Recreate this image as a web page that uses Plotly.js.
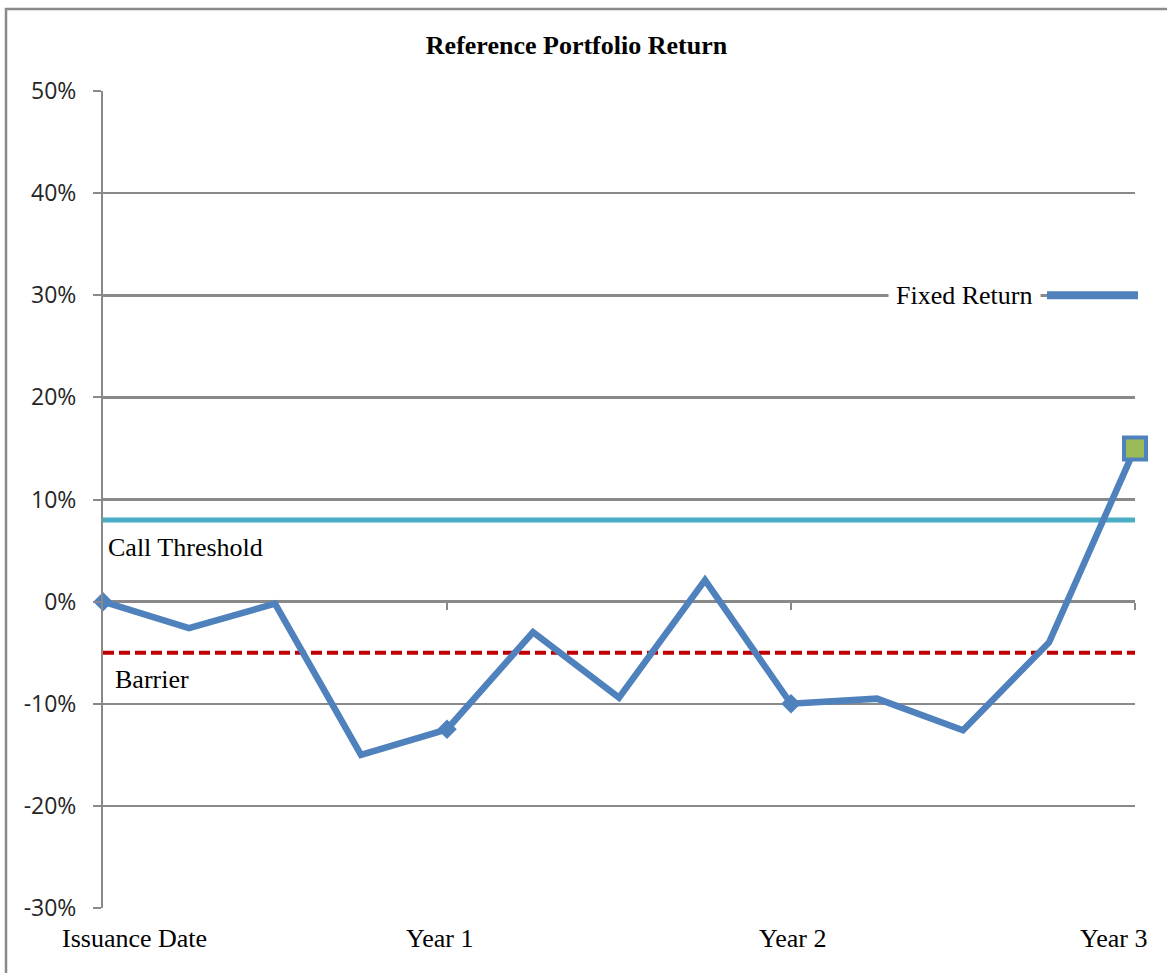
<!DOCTYPE html>
<html>
<head>
<meta charset="utf-8">
<script src="https://cdn.plot.ly/plotly-3.0.1.min.js"></script>
<style>html,body{margin:0;padding:0;background:#fff;}</style>
</head>
<body>
<div id="chart" style="width:1167px;height:973px;"></div>
<script>
// ---- data ----
const periods = [0, 1, 2, 3, 4, 5, 6, 7, 8, 9, 10, 11, 12];
const portfolioReturn = [0, -0.026, -0.002, -0.15, -0.125, -0.03, -0.094, 0.021, -0.10, -0.095, -0.126, -0.04, 0.15];
const diamondIdx = [0, 4, 8];
const finalIdx = [12];
const callThreshold = 0.08;
const barrier = -0.05;
const xTickVals = [0, 4, 8, 12];
const xTickText = ["Issuance Date", "Year 1", "Year 2", "Year 3"];
const yTickVals = [-0.3, -0.2, -0.1, 0, 0.1, 0.2, 0.3, 0.4, 0.5];
const yTickText = ["-30%", "-20%", "-10%", "0%", "10%", "20%", "30%", "40%", "50%"];
const fixedReturnLabel = "Fixed Return";

// ---- styles ----
const BLUE = '#4f81bd';
const GRID = '#898989';
const SERIF = '"Liberation Serif", "Times New Roman", serif';
const SANS = '"Open Sans", "Liberation Sans", sans-serif';
const labelShift = [31, -8, 1, -22];

const xFirst = periods[0], xLast = periods[periods.length - 1];

const traces = [
  { // call threshold
    x: [xFirst, xLast], y: [callThreshold, callThreshold],
    mode: 'lines', line: {color: '#4bacc6', width: 5}, hoverinfo: 'skip', showlegend: false, cliponaxis: false
  },
  { // barrier
    x: [xFirst, xLast], y: [barrier, barrier],
    mode: 'lines', line: {color: '#c00000', width: 4, dash: '11px,5px'}, hoverinfo: 'skip', showlegend: false, cliponaxis: false
  },
  { // portfolio line
    x: periods, y: portfolioReturn,
    mode: 'lines', line: {color: BLUE, width: 6.5}, hoverinfo: 'skip', showlegend: false, cliponaxis: false
  },
  { // diamond markers
    x: diamondIdx.map(i => periods[i]), y: diamondIdx.map(i => portfolioReturn[i]),
    mode: 'markers', marker: {symbol: 'diamond', size: 15, color: BLUE}, hoverinfo: 'skip', showlegend: false, cliponaxis: false
  },
  { // final square
    x: finalIdx.map(i => periods[i]), y: finalIdx.map(i => portfolioReturn[i]),
    mode: 'markers', marker: {symbol: 'square', size: 22, color: '#9bbb59', line: {color: BLUE, width: 4}}, hoverinfo: 'skip', showlegend: false, cliponaxis: false
  },
  { // helper for zero-line tick axis
    x: xTickVals, y: xTickVals.map(() => null), xaxis: 'x2', yaxis: 'y',
    mode: 'markers', hoverinfo: 'skip', showlegend: false
  }
];

const W = 1167, H = 973;
const L = 103, R = 32, T = 91, B = 65;
const pw = W - L - R, ph = H - T - B;
const px = v => (v - L) / pw;
const py = v => (H - B - v) / ph;

const annotations = xTickVals.map((v, i) => ({
  x: v, xref: 'x', y: 0, yref: 'paper', yanchor: 'top', xanchor: 'center',
  xshift: labelShift[i], yshift: -14, showarrow: false, text: xTickText[i],
  font: {family: SERIF, size: 26, color: '#000'}
}));
annotations.push(
  {x: xFirst, xref: 'x', y: callThreshold, yref: 'y', xanchor: 'left', yanchor: 'middle', xshift: 3, yshift: -28,
   showarrow: false, text: 'Call Threshold', font: {family: SERIF, size: 26, color: '#000'}},
  {x: xFirst, xref: 'x', y: barrier, yref: 'y', xanchor: 'left', yanchor: 'middle', xshift: 10, yshift: -27,
   showarrow: false, text: 'Barrier', font: {family: SERIF, size: 26, color: '#000'}},
  {x: px(1041), xref: 'paper', y: 0.3, yref: 'y', xanchor: 'right', yanchor: 'middle', yshift: 0,
   showarrow: false, text: fixedReturnLabel, bgcolor: '#fff', borderpad: 7, font: {family: SERIF, size: 26, color: '#000'}}
);

const shapes = [
  {type: 'line', xref: 'paper', yref: 'y', x0: px(1047), x1: px(1138), y0: 0.3, y1: 0.3, line: {color: BLUE, width: 8}},
  {type: 'rect', xref: 'paper', yref: 'paper', x0: px(6), x1: px(1185), y0: py(9), y1: py(995), line: {color: '#8a8a8a', width: 2.5}, fillcolor: 'rgba(0,0,0,0)', layer: 'below'}
];

const layout = {
  width: W, height: H,
  margin: {l: L, r: R, t: T, b: B},
  paper_bgcolor: '#fff', plot_bgcolor: '#fff',
  title: {text: '<b>Reference Portfolio Return</b>', x: 576.5 / W, xref: 'container', xanchor: 'center',
          y: 1 - 45 / H, yref: 'container', yanchor: 'middle',
          font: {family: SERIF, size: 26, color: '#000'}},
  xaxis: {range: [xFirst, xLast], showgrid: false, zeroline: false, showline: false, ticks: '', showticklabels: false, fixedrange: true},
  xaxis2: {range: [xFirst, xLast], overlaying: 'x', anchor: 'free', position: 0.375, tickvals: xTickVals.slice(1),
           ticks: 'outside', ticklen: 7, tickwidth: 2, tickcolor: GRID, showticklabels: false, showgrid: false, zeroline: false, showline: false},
  yaxis: {range: [-0.3, 0.5], tickvals: yTickVals, ticktext: yTickText, showgrid: true, gridcolor: GRID, gridwidth: 2.5,
          zeroline: false, showline: true, linecolor: GRID, linewidth: 2, ticks: 'outside', ticklen: 8, tickwidth: 2, tickcolor: GRID,
          ticklabelstandoff: 12, tickfont: {family: SANS, size: 23, color: '#262626'}, fixedrange: true},
  annotations: annotations,
  shapes: shapes,
  showlegend: false
};

Plotly.newPlot('chart', traces, layout, {displayModeBar: false, staticPlot: true});
</script>
</body>
</html>
